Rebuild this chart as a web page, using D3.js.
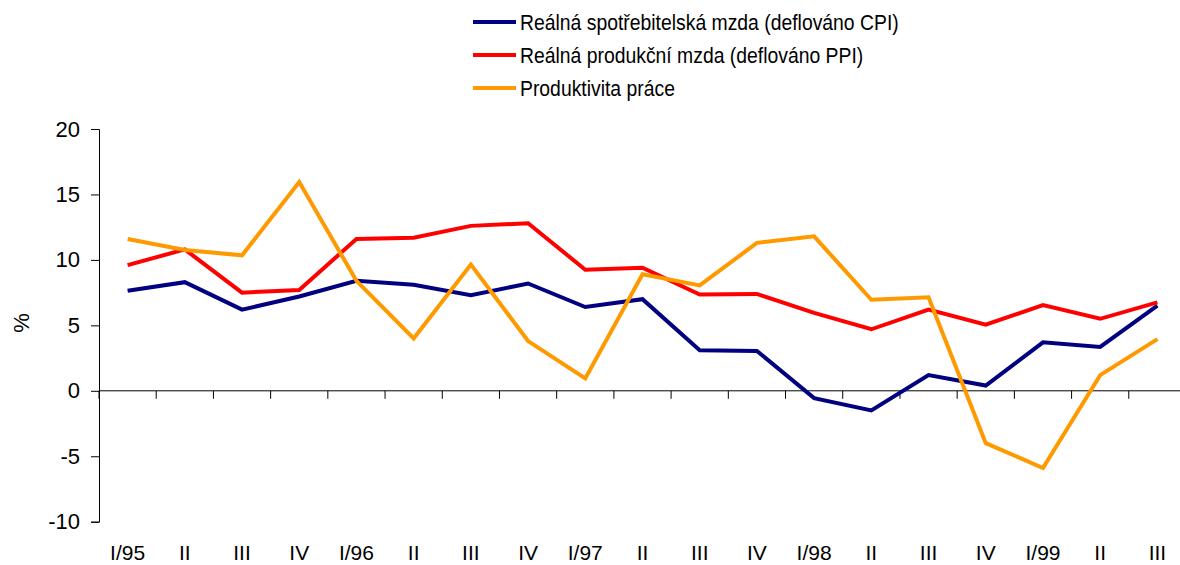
<!DOCTYPE html>
<html><head><meta charset="utf-8">
<script src="https://cdn.jsdelivr.net/npm/d3@7"></script>
<style>body{margin:0;background:#fff}svg{display:block;font-family:"Liberation Sans",Arial,sans-serif}</style>
</head><body><svg id="c" width="1180" height="565"></svg>
<script>
const categories = ["I/95","II","III","IV","I/96","II","III","IV","I/97","II","III","IV","I/98","II","III","IV","I/99","II","III"];
const cpiWage = [7.65,8.3,6.2,7.2,8.4,8.1,7.3,8.2,6.4,7.0,3.1,3.05,-0.56,-1.5,1.2,0.4,3.7,3.35,6.5];
const ppiWage = [9.6,10.8,7.5,7.7,11.6,11.7,12.6,12.8,9.25,9.4,7.35,7.4,5.95,4.7,6.2,5.05,6.55,5.5,6.75];
const productivity = [11.6,10.75,10.35,15.95,8.4,4.0,9.65,3.8,0.95,8.9,8.05,11.3,11.8,6.95,7.15,-4.0,-5.9,1.2,3.95];
const seriesNames = ["Reálná spotřebitelská mzda (deflováno CPI)","Reálná produkční mzda (deflováno PPI)","Produktivita práce"];
const seriesColors = ["#000080","#FF0000","#FF9900"];
const yTicks = [-10,-5,0,5,10,15,20];
const yLabel = "%";

const FONT = "Liberation Sans, Arial, sans-serif";
const svg = d3.select("#c");
const x = d3.scaleBand().domain(d3.range(categories.length)).range([99, 1186]).padding(0);
const y = d3.scaleLinear().domain([-10, 20]).range([521.7, 129]);

// y axis
const ya = svg.append("g").attr("transform","translate(99,0)")
  .call(d3.axisLeft(y).tickValues(yTicks).tickSize(8).tickPadding(11).tickFormat(d => String(d)));
ya.select(".domain").attr("stroke","#000");
ya.selectAll(".tick line").attr("stroke","#000");
ya.selectAll(".tick text").attr("font-size",22).attr("fill","#000").attr("font-family",FONT);

// x axis at zero: line + boundary ticks
const boundaries = d3.range(categories.length + 1).map(i => i < categories.length ? x(i) : x.range()[1]);
const xa = svg.append("g").attr("transform",`translate(0,${y(0)})`);
xa.append("line").attr("x1",99).attr("x2",1186).attr("stroke","#000");
xa.selectAll("line.t").data(boundaries).join("line").attr("class","t")
  .attr("x1",d=>d).attr("x2",d=>d).attr("y1",0).attr("y2",8).attr("stroke","#000");

// x labels at bottom
const xl = svg.append("g").attr("transform","translate(0,560)")
  .call(d3.axisBottom(x).tickSize(0).tickPadding(0).tickFormat(i => categories[i]));
xl.select(".domain").remove();
xl.selectAll(".tick text").attr("font-size",21).attr("fill","#000").attr("dy",0)
  .attr("font-family",FONT);

// y label
svg.append("text").attr("transform","translate(29,323) rotate(-90)").attr("text-anchor","middle")
  .attr("font-size",22).attr("font-family",FONT).text(yLabel);

// lines
const line = d3.line().x((d,i)=>x(i)+x.bandwidth()/2).y(d=>y(d));
[cpiWage, ppiWage, productivity].forEach((s,k)=>{
  svg.append("path").datum(s).attr("d",line).attr("fill","none")
    .attr("stroke",seriesColors[k]).attr("stroke-width",4).attr("stroke-linejoin","miter");
});

// legend
const lg = svg.append("g");
seriesNames.forEach((n,k)=>{
  const yy = 22 + k*33;
  lg.append("line").attr("x1",473).attr("x2",516).attr("y1",yy).attr("y2",yy)
    .attr("stroke",seriesColors[k]).attr("stroke-width",4);
  lg.append("text").attr("transform",`translate(520,${yy}) scale(0.88,1)`)
    .attr("dy","0.36em").attr("font-size",22).attr("font-family",FONT).text(n);
});
</script></body></html>
